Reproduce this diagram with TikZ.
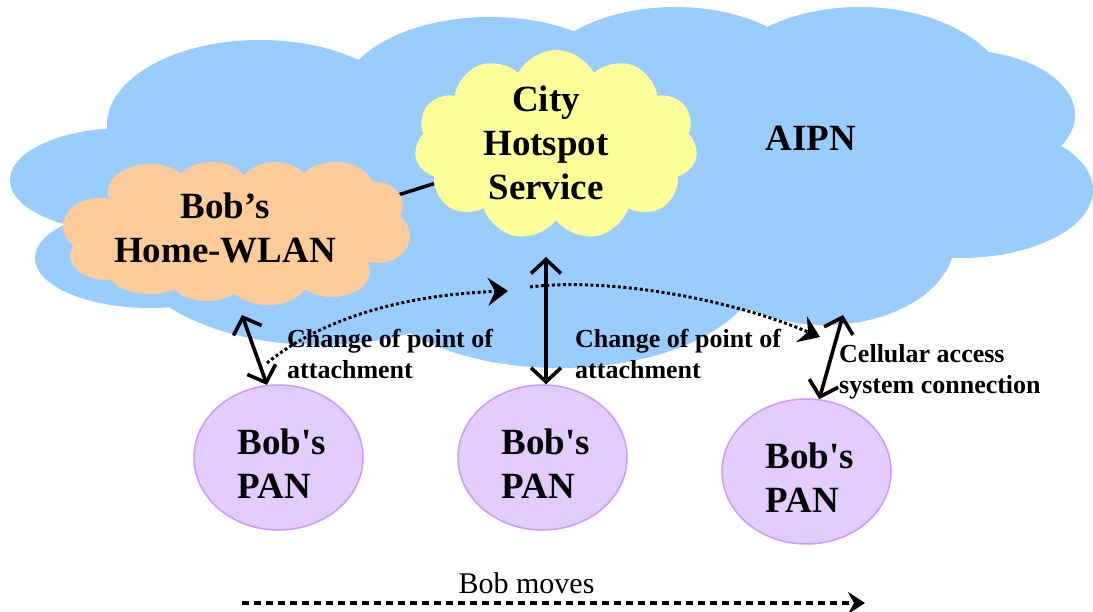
\documentclass[tikz,border=0pt]{standalone}
\usepackage{fontspec}
\setmainfont{Liberation Serif}[Ligatures=TeXOff]
\usetikzlibrary{shapes.symbols,shapes.geometric,arrows.meta}
\definecolor{aipnblue}{HTML}{99CCFF}
\definecolor{homeorange}{HTML}{FFCC99}
\definecolor{cityyellow}{HTML}{FFFF99}
\definecolor{panfill}{HTML}{E3CCFF}
\definecolor{panedge}{HTML}{CC99FF}
\pgfdeclarelayer{back}
\pgfdeclarelayer{mid}
\pgfsetlayers{back,mid,main}
\begin{document}
\begin{tikzpicture}[x=1pt,y=-1pt,
  bigtext/.style={font=\fontsize{37}{44}\selectfont\bfseries, align=center, inner sep=0pt},
  pantext/.style={font=\fontsize{37}{44}\selectfont\bfseries, align=left, inner sep=0pt},
  smalltext/.style={font=\fontsize{26}{31}\selectfont\bfseries, align=left, inner sep=0pt},
  cloudnode/.style={cloud, cloud puffs=11, cloud puff arc=125, cloud ignores aspect, inner sep=0pt},
  pan/.style={ellipse, fill=panfill, draw=panedge, line width=1.5pt, minimum width=169pt, minimum height=145pt, inner sep=0pt},
  barb/.tip={Straight Barb[length=14pt,width=30pt,line width=3.6pt]},
  dbl/.style={line width=3.6pt, barb-barb},
  dotarrow/.style={line width=3pt, dash pattern=on 3pt off 2.5pt, -{Stealth[length=20pt,width=28pt,inset=7pt]}},
  movearrow/.style={line width=3.5pt, dash pattern=on 7pt off 5pt, -{Stealth[length=17pt,width=22pt,inset=6pt]}}
]
\useasboundingbox (0,0) rectangle (1093,612);
% AIPN cloud (union of lobes)
\begin{pgfonlayer}{back}
\fill[aipnblue]
  (125,180) ellipse [x radius=115pt, y radius=52pt]
  (150,258) ellipse [x radius=115pt, y radius=50pt]
  (260,125) ellipse [x radius=153pt, y radius=85pt]
  (490,100) ellipse [x radius=150pt, y radius=83pt]
  (675,100) ellipse [x radius=150pt, y radius=93pt]
  (860,100) ellipse [x radius=150pt, y radius=93pt]
  (960,115) ellipse [x radius=115pt, y radius=65pt]
  (960,190) ellipse [x radius=133pt, y radius=68pt]
  (825,240) ellipse [x radius=130pt, y radius=85pt]
  (560,265) ellipse [x radius=200pt, y radius=103pt]
  (320,235) ellipse [x radius=200pt, y radius=110pt]
  (600,190) ellipse [x radius=380pt, y radius=130pt];
\end{pgfonlayer}
\node[bigtext, anchor=base] (aipn) at (811,151) {AIPN};
% Home-WLAN cloud (outline node + puffs)
\node[ellipse, minimum width=347pt, minimum height=143pt, inner sep=0pt] (home) at (237,233) {};
\fill[homeorange]
  (150,192) ellipse [x radius=42pt, y radius=28pt]
  (212,190) ellipse [x radius=38pt, y radius=28pt]
  (275,190) ellipse [x radius=36pt, y radius=28pt]
  (335,191) ellipse [x radius=40pt, y radius=29pt]
  (100,226) ellipse [x radius=37pt, y radius=28pt]
  (108,256) ellipse [x radius=38pt, y radius=24pt]
  (375,205) ellipse [x radius=28pt, y radius=23pt]
  (378,236) ellipse [x radius=32pt, y radius=27pt]
  (150,272) ellipse [x radius=42pt, y radius=22pt]
  (207,275) ellipse [x radius=40pt, y radius=26pt]
  (268,276) ellipse [x radius=42pt, y radius=29pt]
  (332,271) ellipse [x radius=38pt, y radius=26pt]
  (237,233) ellipse [x radius=150pt, y radius=50pt];
% City hotspot cloud
\node[cloudnode, fill=cityyellow, minimum width=283pt, minimum height=190pt] (city) at (556,145) {};
\begin{pgfonlayer}{mid}
\draw[line width=3.5pt] (home.13) -- (city);
\end{pgfonlayer}
\node[bigtext] (hometext) at (225,227.5) {Bob’s\\Home-WLAN};
\node[bigtext] (citytext) at (546,143.3) {City\\Hotspot\\Service};
% PANs
\node[pan] (p1) at (278.5,457.5) {};
\node[pan] (p2) at (542.5,457.5) {};
\node[pan] (p3) at (806.5,471.5) {};
\node[pantext] (p1t) at (282,463.5) {Bob's\\PAN};
\node[pantext] (p2t) at (546,463.5) {Bob's\\PAN};
\node[pantext] (p3t) at (810,477.5) {Bob's\\PAN};
% labels
\node[smalltext, anchor=west] (lab1) at (287,353.7) {Change of point of\\attachment};
\node[smalltext, anchor=west] (lab2) at (575,353.7) {Change of point of\\attachment};
\node[smalltext, anchor=west] (lab3) at (839,371.5) {Cellular access\\system connection};
% attachment arrows
\coordinate (a1) at (242,315);
\draw[dbl] (a1) -- (p1.99);
\coordinate (a2) at (546,257);
\draw[dbl] (a2) -- (a2 |- p2.north);
\coordinate (a3) at (843,315);
\draw[dbl] (a3) -- (p3.80);
% movement of attachment
\coordinate (d1s) at (267,363);
\coordinate (d1e) at (508,291);
\draw[dotarrow] (d1s) .. controls (320,320) and (400,295) .. (d1e);
\coordinate (d2s) at (530,287);
\coordinate (d2e) at (820,337);
\draw[dotarrow] (d2s) .. controls (600,278) and (720,295) .. (d2e);
% Bob moves
\node[font=\fontsize{30}{36}\selectfont, anchor=base, inner sep=0pt] (moves) at (526.5,593) {Bob moves};
\coordinate (m1) at (242,603);
\coordinate (m2) at (865,603);
\draw[movearrow] (m1) -- (m2);
\end{tikzpicture}
\end{document}
